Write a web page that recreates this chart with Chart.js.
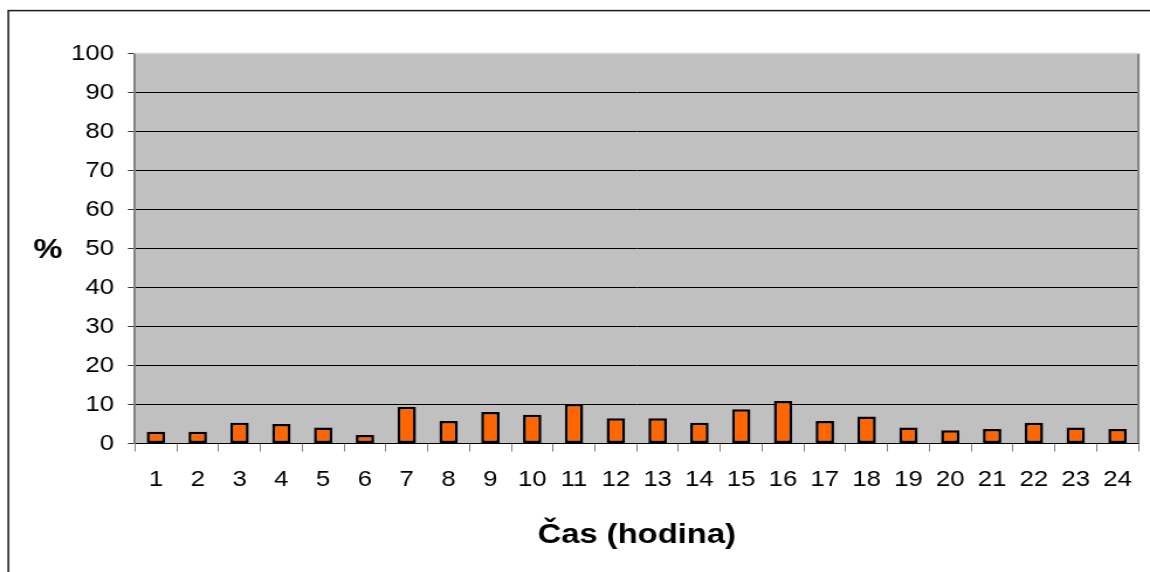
<!DOCTYPE html>
<html>
<head>
<meta charset="utf-8">
<script src="https://cdn.jsdelivr.net/npm/chart.js@4/dist/chart.umd.min.js"></script>
<style>
  html, body { margin: 0; padding: 0; background: #fff; overflow: hidden; }
  #c { display: block; transform: scaleX(1.1699); transform-origin: 0 0; }
</style>
</head>
<body>
<canvas id="c" width="983" height="572"></canvas>
<script>
// Hours of the day (category labels)
const hours = ['1','2','3','4','5','6','7','8','9','10','11','12','13','14','15','16','17','18','19','20','21','22','23','24'];
// Share per hour, in percent
const shares = [3.0, 3.0, 5.3, 5.0, 4.1, 2.2, 9.4, 5.8, 8.1, 7.4, 10.1, 6.5, 6.5, 5.3, 8.8, 10.9, 5.8, 6.9, 4.1, 3.4, 3.7, 5.3, 4.1, 3.7];
// Value axis range and step
const yMin = 0, yMax = 100, yStep = 10;

const FONT = '"Liberation Sans", Arial, Helvetica, sans-serif';

const decor = {
  id: 'decor',
  beforeDraw(chart) {
    const { ctx, chartArea: a } = chart;
    ctx.save();
    ctx.fillStyle = '#ffffff';
    ctx.fillRect(0, 0, chart.width, chart.height);
    // outer frame
    ctx.strokeStyle = '#1a1a1a';
    ctx.lineWidth = 1.5;
    ctx.strokeRect(7.1, 10.6, 2000, 2000);
    // plot background
    ctx.fillStyle = '#C0C0C0';
    ctx.fillRect(a.left, a.top, a.right - a.left, a.bottom - a.top);
    ctx.restore();
  },
  afterDraw(chart) {
    const { ctx, chartArea: a } = chart;
    ctx.save();
    // plot area right and top edges
    ctx.strokeStyle = '#808080';
    ctx.lineWidth = 2;
    ctx.beginPath();
    ctx.moveTo(a.right, a.top);
    ctx.lineTo(a.right, a.bottom);
    ctx.stroke();
    ctx.strokeStyle = '#d4d4d4';
    ctx.lineWidth = 1.5;
    ctx.beginPath();
    ctx.moveTo(a.left, a.top);
    ctx.lineTo(a.right, a.top);
    ctx.stroke();
    // axis titles
    ctx.fillStyle = '#000';
    ctx.textAlign = 'center';
    ctx.textBaseline = 'alphabetic';
    ctx.font = 'bold 28px ' + FONT;
    ctx.fillText('%', 41, 258);
    ctx.fillText('Čas (hodina)', (a.left + a.right) / 2, 543);
    ctx.restore();
  }
};

new Chart(document.getElementById('c'), {
  type: 'bar',
  data: {
    labels: hours,
    datasets: [{
      data: shares,
      backgroundColor: '#FF6600',
      borderColor: '#000000',
      borderWidth: 2.5,
      borderSkipped: false,
      barPercentage: 0.44,
      categoryPercentage: 1.0
    }]
  },
  options: {
    responsive: false,
    animation: false,
    devicePixelRatio: 1,
    layout: { padding: { left: 0, top: 53.5, right: 9.9, bottom: 0 } },
    plugins: { legend: { display: false }, tooltip: { enabled: false } },
    scales: {
      x: {
        type: 'category',
        afterFit(scale) { scale.height = 128.5; },
        grid: { offset: true, drawOnChartArea: false, drawTicks: true, tickLength: 8, tickColor: '#808080', tickWidth: 1 },
        border: { display: true, color: '#000000', width: 1 },
        ticks: { color: '#000', font: { family: FONT, size: 22 }, padding: 15, maxRotation: 0, autoSkip: false }
      },
      y: {
        min: yMin,
        max: yMax,
        afterFit(scale) { scale.width = 115.4; },
        grid: {
          color: (c) => (c.tick && c.tick.value === yMax ? 'rgba(0,0,0,0)' : '#000000'),
          tickColor: '#333333',
          lineWidth: 1,
          tickLength: 6
        },
        border: { display: true, color: '#808080', width: 2 },
        ticks: { stepSize: yStep, color: '#000', font: { family: FONT, size: 22 }, padding: 12 }
      }
    }
  },
  plugins: [decor]
});
</script>
</body>
</html>
